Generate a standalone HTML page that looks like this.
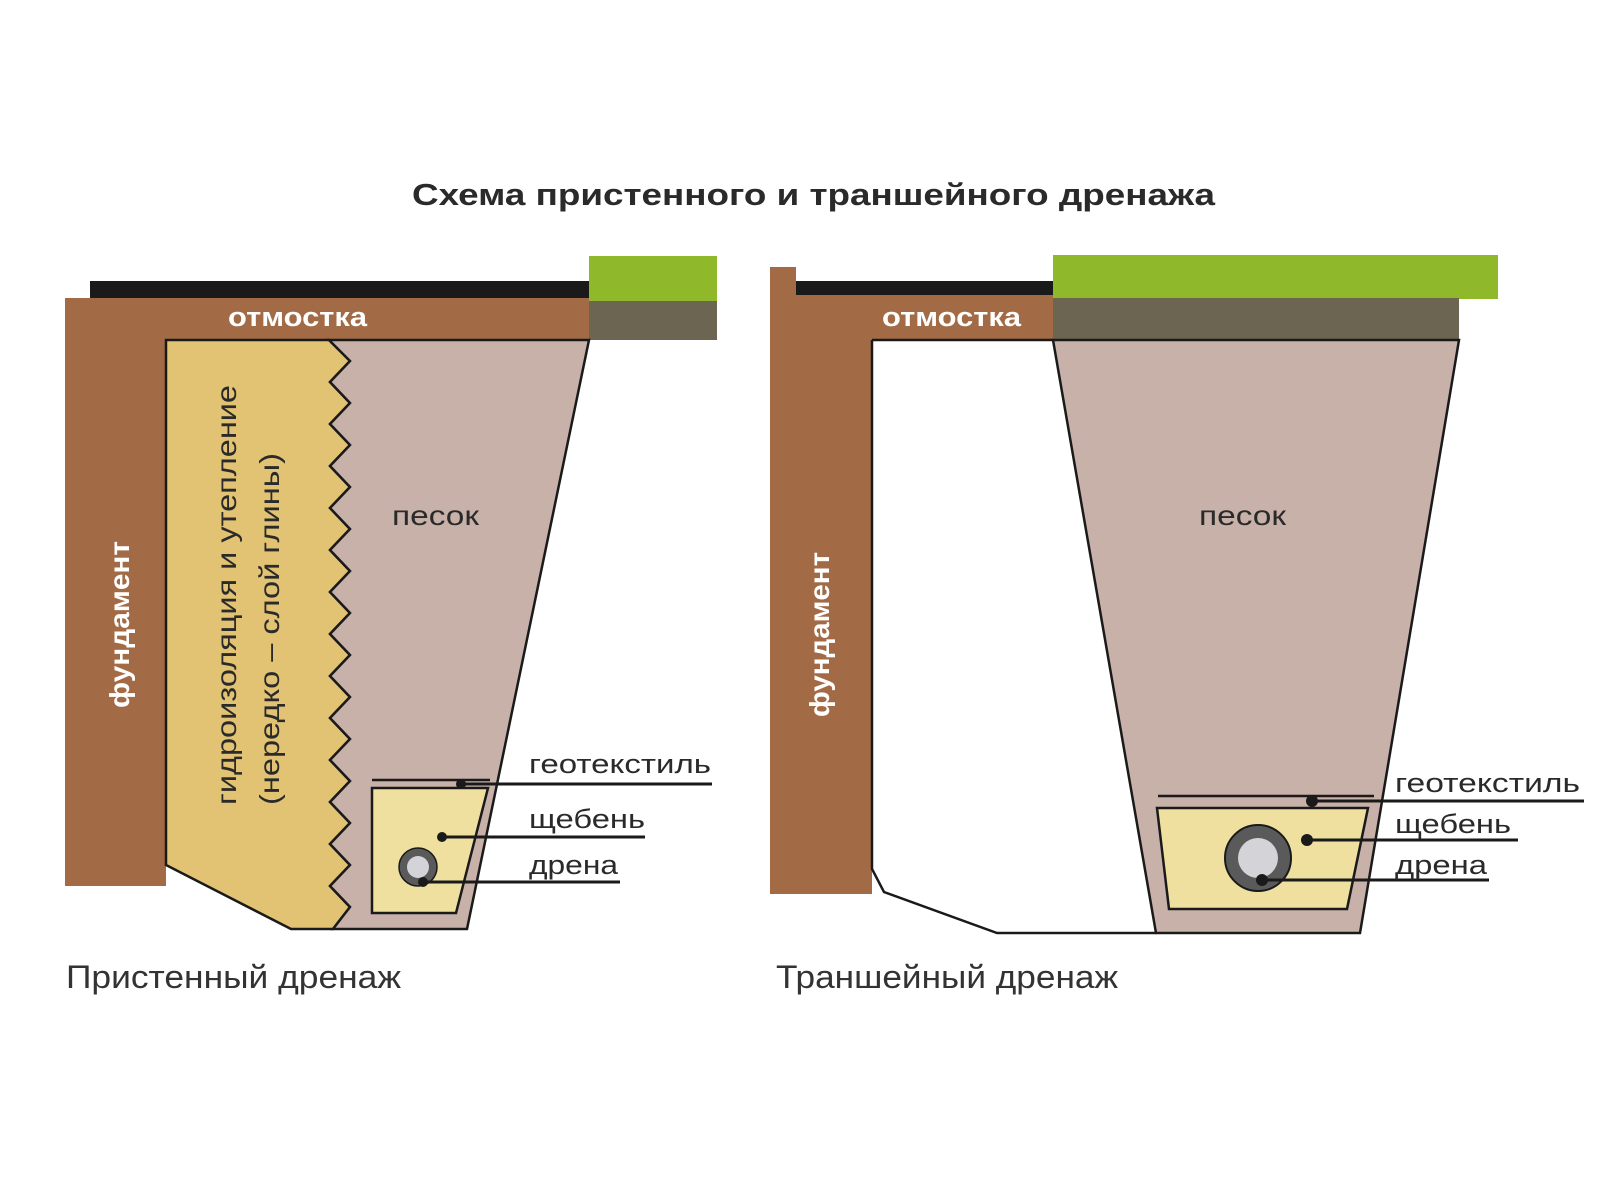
<!DOCTYPE html>
<html><head><meta charset="utf-8"><style>html,body{margin:0;padding:0;background:#fff;}svg{display:block}</style></head>
<body>
<svg width="1600" height="1200" viewBox="0 0 1600 1200" xmlns="http://www.w3.org/2000/svg" font-family="Liberation Sans, sans-serif">
<rect width="1600" height="1200" fill="#fff"/>
<text x="412" y="205" font-size="31" font-weight="bold" fill="#2a2a2a" textLength="803" lengthAdjust="spacingAndGlyphs">Схема пристенного и траншейного дренажа</text>

<!-- LEFT PANEL -->
<rect x="90" y="281" width="499" height="18" fill="#1a1a1a"/>
<rect x="589" y="256" width="128" height="46" fill="#8fb82a"/>
<rect x="589" y="301" width="128" height="39" fill="#6b6552"/>
<path d="M65 298 H589 V340 H166 V886 H65 Z" fill="#a36b45"/>
<path d="M166 340 H329 L350 361 330 382 350 403 330 424 350 445 330 466 350 487 330 508 350 529 330 550 350 571 330 592 350 613 330 634 350 655 330 676 350 697 330 718 350 739 330 760 350 781 330 802 350 823 330 844 350 865 330 886 350 907 333 929 H291 L166 865 Z" fill="#e2c273" stroke="#1a1a1a" stroke-width="2.5"/>
<path d="M329 340 H589 L467 929 H333 L350 907 330 886 350 865 330 844 350 823 330 802 350 781 330 760 350 739 330 718 350 697 330 676 350 655 330 634 350 613 330 592 350 571 330 550 350 529 330 508 350 487 330 466 350 445 330 424 350 403 330 382 350 361 Z" fill="#c8b1a9" stroke="#1a1a1a" stroke-width="2.5"/>
<line x1="372" y1="780" x2="490" y2="780" stroke="#1a1a1a" stroke-width="2.5"/>
<path d="M372 788 H488 L456 913 H372 Z" fill="#efe0a0" stroke="#1a1a1a" stroke-width="2.5"/>
<circle cx="418" cy="867" r="19" fill="#5a5a5a" stroke="#1a1a1a" stroke-width="1.5"/>
<circle cx="418" cy="867" r="11" fill="#d4d4d8"/>
<line x1="461" y1="784" x2="712" y2="784" stroke="#1a1a1a" stroke-width="3"/>
<circle cx="461" cy="784" r="5" fill="#1a1a1a"/>
<line x1="442" y1="837" x2="645" y2="837" stroke="#1a1a1a" stroke-width="3"/>
<circle cx="442" cy="837" r="5" fill="#1a1a1a"/>
<line x1="423" y1="882" x2="620" y2="882" stroke="#1a1a1a" stroke-width="3"/>
<circle cx="423" cy="882" r="5" fill="#1a1a1a"/>
<text x="529" y="773" font-size="27" fill="#2a2a2a" textLength="182" lengthAdjust="spacingAndGlyphs">геотекстиль</text>
<text x="529" y="828" font-size="27" fill="#2a2a2a" textLength="116" lengthAdjust="spacingAndGlyphs">щебень</text>
<text x="529" y="874" font-size="27" fill="#2a2a2a" textLength="89" lengthAdjust="spacingAndGlyphs">дрена</text>
<text x="228" y="326" font-size="27" font-weight="bold" fill="#fff" textLength="139" lengthAdjust="spacingAndGlyphs">отмостка</text>
<text x="392" y="525" font-size="28" fill="#2a2a2a" textLength="87" lengthAdjust="spacingAndGlyphs">песок</text>
<text transform="translate(129,708) rotate(-90)" font-size="28" font-weight="bold" fill="#fff" textLength="167" lengthAdjust="spacingAndGlyphs">фундамент</text>
<text transform="translate(236,805) rotate(-90)" font-size="28" fill="#2a2a2a" textLength="420" lengthAdjust="spacingAndGlyphs">гидроизоляция и утепление</text>
<text transform="translate(279,805) rotate(-90)" font-size="28" fill="#2a2a2a" textLength="352" lengthAdjust="spacingAndGlyphs">(нередко – слой глины)</text>
<text x="66" y="988" font-size="32" fill="#333" textLength="335" lengthAdjust="spacingAndGlyphs">Пристенный дренаж</text>

<!-- RIGHT PANEL -->
<rect x="796" y="281" width="257" height="15" fill="#1a1a1a"/>
<rect x="1053" y="255" width="445" height="44" fill="#8fb82a"/>
<rect x="1053" y="298" width="406" height="42" fill="#6b6552"/>
<path d="M770 267 H796 V295 H1053 V340 H872 V894 H770 Z" fill="#a36b45"/>
<path d="M872 340 V869 L884 892 L997 933 H1156" fill="none" stroke="#1a1a1a" stroke-width="2.5"/>
<line x1="872" y1="340" x2="1053" y2="340" stroke="#1a1a1a" stroke-width="2.5"/>
<path d="M1053 340 H1459 L1360 933 H1156 Z" fill="#c8b1a9" stroke="#1a1a1a" stroke-width="2.5"/>
<line x1="1158" y1="796" x2="1374" y2="796" stroke="#1a1a1a" stroke-width="2.5"/>
<path d="M1157 808 H1368 L1347 909 H1169 Z" fill="#efe0a0" stroke="#1a1a1a" stroke-width="2.5"/>
<circle cx="1258" cy="858" r="33" fill="#5a5a5a" stroke="#1a1a1a" stroke-width="2"/>
<circle cx="1258" cy="858" r="20" fill="#d4d4d8"/>
<line x1="1312" y1="801" x2="1584" y2="801" stroke="#1a1a1a" stroke-width="3"/>
<circle cx="1312" cy="801" r="6" fill="#1a1a1a"/>
<line x1="1307" y1="840" x2="1518" y2="840" stroke="#1a1a1a" stroke-width="3"/>
<circle cx="1307" cy="840" r="6" fill="#1a1a1a"/>
<line x1="1262" y1="880" x2="1489" y2="880" stroke="#1a1a1a" stroke-width="3"/>
<circle cx="1262" cy="880" r="6" fill="#1a1a1a"/>
<text x="1395" y="792" font-size="27" fill="#2a2a2a" textLength="185" lengthAdjust="spacingAndGlyphs">геотекстиль</text>
<text x="1395" y="833" font-size="27" fill="#2a2a2a" textLength="116" lengthAdjust="spacingAndGlyphs">щебень</text>
<text x="1395" y="874" font-size="27" fill="#2a2a2a" textLength="92" lengthAdjust="spacingAndGlyphs">дрена</text>
<text x="882" y="326" font-size="27" font-weight="bold" fill="#fff" textLength="139" lengthAdjust="spacingAndGlyphs">отмостка</text>
<text x="1199" y="525" font-size="28" fill="#2a2a2a" textLength="87" lengthAdjust="spacingAndGlyphs">песок</text>
<text transform="translate(829,717) rotate(-90)" font-size="28" font-weight="bold" fill="#fff" textLength="165" lengthAdjust="spacingAndGlyphs">фундамент</text>
<text x="776" y="988" font-size="32" fill="#333" textLength="342" lengthAdjust="spacingAndGlyphs">Траншейный дренаж</text>
</svg>
</body></html>
